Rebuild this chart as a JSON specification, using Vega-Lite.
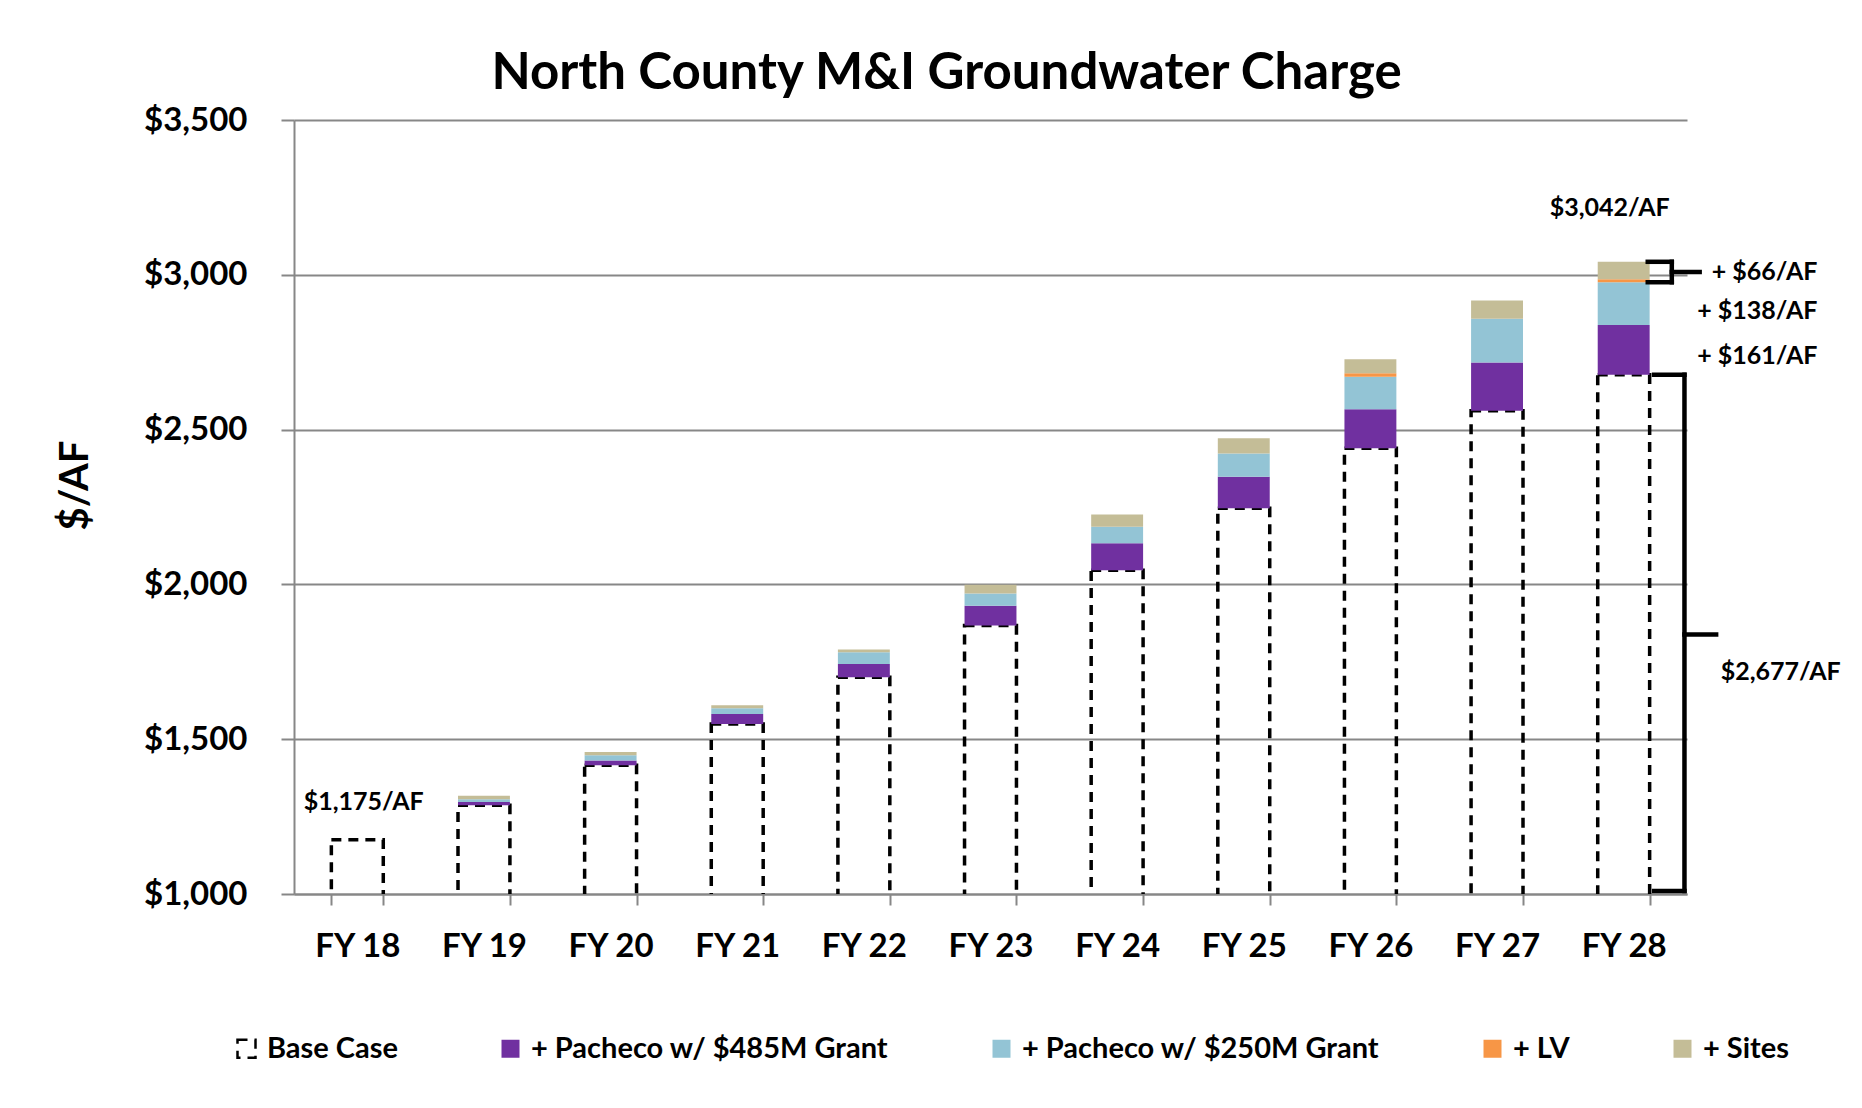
{
  "$schema": "https://vega.github.io/schema/vega-lite/v6.json",
  "width": 1393,
  "height": 774,
  "autosize": {"type": "none"},
  "padding": {"left": 294, "top": 120, "right": 175, "bottom": 214},
  "background": "#ffffff",
  "title": {
    "text": "North County M&I Groundwater Charge",
    "font": "Lato",
    "fontWeight": "bold",
    "fontSize": 51,
    "color": "#000000",
    "anchor": "middle",
    "dx": -44,
    "offset": 4
  },
  "layer": [
    {
      "data": {
        "values": [
          {"FY": "FY 18", "series": "Base Case", "from": 0, "to": 1175},
          {"FY": "FY 19", "series": "Base Case", "from": 0, "to": 1287},
          {"FY": "FY 20", "series": "Base Case", "from": 0, "to": 1416},
          {"FY": "FY 21", "series": "Base Case", "from": 0, "to": 1549},
          {"FY": "FY 22", "series": "Base Case", "from": 0, "to": 1700},
          {"FY": "FY 23", "series": "Base Case", "from": 0, "to": 1867},
          {"FY": "FY 24", "series": "Base Case", "from": 0, "to": 2046},
          {"FY": "FY 25", "series": "Base Case", "from": 0, "to": 2246},
          {"FY": "FY 26", "series": "Base Case", "from": 0, "to": 2440},
          {"FY": "FY 27", "series": "Base Case", "from": 0, "to": 2561},
          {"FY": "FY 28", "series": "Base Case", "from": 0, "to": 2677},
          {"FY": "FY 19", "series": "+ Pacheco w/ $485M Grant", "from": 1287, "to": 1297},
          {"FY": "FY 20", "series": "+ Pacheco w/ $485M Grant", "from": 1416, "to": 1431},
          {"FY": "FY 21", "series": "+ Pacheco w/ $485M Grant", "from": 1549, "to": 1581},
          {"FY": "FY 22", "series": "+ Pacheco w/ $485M Grant", "from": 1700, "to": 1743},
          {"FY": "FY 23", "series": "+ Pacheco w/ $485M Grant", "from": 1867, "to": 1931},
          {"FY": "FY 24", "series": "+ Pacheco w/ $485M Grant", "from": 2046, "to": 2133},
          {"FY": "FY 25", "series": "+ Pacheco w/ $485M Grant", "from": 2246, "to": 2348},
          {"FY": "FY 26", "series": "+ Pacheco w/ $485M Grant", "from": 2440, "to": 2566},
          {"FY": "FY 27", "series": "+ Pacheco w/ $485M Grant", "from": 2561, "to": 2717},
          {"FY": "FY 28", "series": "+ Pacheco w/ $485M Grant", "from": 2677, "to": 2838},
          {"FY": "FY 19", "series": "+ Pacheco w/ $250M Grant", "from": 1297, "to": 1306},
          {"FY": "FY 20", "series": "+ Pacheco w/ $250M Grant", "from": 1431, "to": 1448},
          {"FY": "FY 21", "series": "+ Pacheco w/ $250M Grant", "from": 1581, "to": 1600},
          {"FY": "FY 22", "series": "+ Pacheco w/ $250M Grant", "from": 1743, "to": 1781},
          {"FY": "FY 23", "series": "+ Pacheco w/ $250M Grant", "from": 1931, "to": 1971},
          {"FY": "FY 24", "series": "+ Pacheco w/ $250M Grant", "from": 2133, "to": 2186},
          {"FY": "FY 25", "series": "+ Pacheco w/ $250M Grant", "from": 2348, "to": 2423},
          {"FY": "FY 26", "series": "+ Pacheco w/ $250M Grant", "from": 2566, "to": 2671},
          {"FY": "FY 27", "series": "+ Pacheco w/ $250M Grant", "from": 2717, "to": 2858},
          {"FY": "FY 28", "series": "+ Pacheco w/ $250M Grant", "from": 2838, "to": 2976},
          {"FY": "FY 26", "series": "+ LV", "from": 2671, "to": 2682},
          {"FY": "FY 28", "series": "+ LV", "from": 2976, "to": 2986},
          {"FY": "FY 19", "series": "+ Sites", "from": 1306, "to": 1317},
          {"FY": "FY 20", "series": "+ Sites", "from": 1448, "to": 1459},
          {"FY": "FY 21", "series": "+ Sites", "from": 1600, "to": 1610},
          {"FY": "FY 22", "series": "+ Sites", "from": 1781, "to": 1790},
          {"FY": "FY 23", "series": "+ Sites", "from": 1971, "to": 1999},
          {"FY": "FY 24", "series": "+ Sites", "from": 2186, "to": 2226},
          {"FY": "FY 25", "series": "+ Sites", "from": 2423, "to": 2472},
          {"FY": "FY 26", "series": "+ Sites", "from": 2682, "to": 2727},
          {"FY": "FY 27", "series": "+ Sites", "from": 2858, "to": 2917},
          {"FY": "FY 28", "series": "+ Sites", "from": 2986, "to": 3042}
        ]
      },
      "mark": {"type": "bar", "clip": true, "strokeWidth": 3.5},
      "encoding": {
        "x": {
          "field": "FY",
          "type": "nominal",
          "sort": null,
          "scale": {"paddingInner": 0.59, "paddingOuter": 0.295},
          "axis": {
            "title": null,
            "tickBand": "extent",
            "labelAngle": 0,
            "labelFontSize": 33,
            "tickSize": 11,
            "labelPadding": 41,
            "labelBaseline": "middle",
            "grid": false
          }
        },
        "y": {
          "field": "to",
          "type": "quantitative",
          "title": "$/AF",
          "scale": {"domain": [1000, 3500], "nice": false, "zero": false},
          "axis": {
            "title": "$/AF",
            "values": [1000, 1500, 2000, 2500, 3000, 3500],
            "format": "$,.0f",
            "labelFontSize": 33,
            "tickSize": 13,
            "labelPadding": 34,
            "grid": true,
            "titleFontSize": 40,
            "titlePadding": 48,
            "titleY": 365
          }
        },
        "y2": {"field": "from"},
        "color": {
          "field": "series",
          "type": "nominal",
          "scale": {
            "domain": ["Base Case", "+ Pacheco w/ $485M Grant", "+ Pacheco w/ $250M Grant", "+ LV", "+ Sites"],
            "range": ["transparent", "#7030A0", "#93C4D5", "#F79646", "#C4BD97"]
          },
          "legend": {"title": null}
        },
        "stroke": {
          "field": "series",
          "type": "nominal",
          "scale": {
            "domain": ["Base Case", "+ Pacheco w/ $485M Grant", "+ Pacheco w/ $250M Grant", "+ LV", "+ Sites"],
            "range": ["#000000", "transparent", "transparent", "transparent", "transparent"]
          },
          "legend": {"title": null}
        },
        "strokeDash": {
          "field": "series",
          "type": "nominal",
          "scale": {
            "domain": ["Base Case", "+ Pacheco w/ $485M Grant", "+ Pacheco w/ $250M Grant", "+ LV", "+ Sites"],
            "range": [[10, 7], [1, 0], [1, 0], [1, 0], [1, 0]]
          },
          "legend": {"title": null}
        }
      }
    },
    {
      "layer": [
        {
          "data": {
            "values": [
              {"x": 0.55, "y": 1297, "label": "$1,175/AF"},
              {"x": 10.39, "y": 3216, "label": "$3,042/AF"},
              {"x": 11.74, "y": 1717, "label": "$2,677/AF"}
            ]
          },
          "mark": {"type": "text", "font": "Lato", "fontWeight": "bold", "fontSize": 25, "color": "#000000", "align": "center", "baseline": "middle"},
          "encoding": {
            "x": {"field": "x", "type": "quantitative", "scale": {"domain": [0, 11], "nice": false, "zero": false}, "axis": null},
            "y": {"field": "y", "type": "quantitative", "title": "$/AF", "scale": {"domain": [1000, 3500], "nice": false, "zero": false}},
            "text": {"field": "label"}
          }
        },
        {
          "data": {
            "values": [
              {"x": 12.03, "y": 3009, "label": "+ $66/AF"},
              {"x": 12.03, "y": 2883, "label": "+ $138/AF"},
              {"x": 12.03, "y": 2738, "label": "+ $161/AF"}
            ]
          },
          "mark": {"type": "text", "font": "Lato", "fontWeight": "bold", "fontSize": 25, "color": "#000000", "align": "right", "baseline": "middle"},
          "encoding": {
            "x": {"field": "x", "type": "quantitative", "scale": {"domain": [0, 11], "nice": false, "zero": false}, "axis": null},
            "y": {"field": "y", "type": "quantitative", "title": "$/AF", "scale": {"domain": [1000, 3500], "nice": false, "zero": false}},
            "text": {"field": "label"}
          }
        },
        {
          "data": {
            "values": [
              {"x": 10.69, "x2": 10.88, "y": 3042, "y2": 3042},
              {"x": 10.88, "x2": 10.88, "y": 2976, "y2": 3042},
              {"x": 10.69, "x2": 10.88, "y": 2976, "y2": 2976},
              {"x": 10.88, "x2": 11.1, "y": 3009, "y2": 3009},
              {"x": 10.74, "x2": 10.98, "y": 2677, "y2": 2677},
              {"x": 10.98, "x2": 10.98, "y": 1010, "y2": 2677},
              {"x": 10.74, "x2": 10.98, "y": 1010, "y2": 1010},
              {"x": 10.98, "x2": 11.23, "y": 1838, "y2": 1838}
            ]
          },
          "mark": {"type": "rule", "color": "#000000", "strokeWidth": 4.5, "strokeCap": "square"},
          "encoding": {
            "x": {"field": "x", "type": "quantitative", "scale": {"domain": [0, 11], "nice": false, "zero": false}, "axis": null},
            "x2": {"field": "x2"},
            "y": {"field": "y", "type": "quantitative", "title": "$/AF", "scale": {"domain": [1000, 3500], "nice": false, "zero": false}},
            "y2": {"field": "y2"}
          }
        }
      ]
    }
  ],
  "resolve": {"scale": {"x": "independent"}},
  "config": {
    "view": {"stroke": null},
    "font": "Lato",
    "axis": {
      "labelFont": "Lato",
      "labelFontWeight": "bold",
      "labelColor": "#000000",
      "titleFont": "Lato",
      "titleFontWeight": "bold",
      "titleColor": "#000000",
      "domainColor": "#878787",
      "domainWidth": 2,
      "tickColor": "#878787",
      "tickWidth": 2,
      "gridColor": "#878787",
      "gridWidth": 2
    },
    "legend": {
      "orient": "none",
      "legendX": -62,
      "legendY": 914,
      "direction": "horizontal",
      "columns": 5,
      "symbolType": "square",
      "symbolSize": 324,
      "symbolStrokeWidth": 2.5,
      "labelFont": "Lato",
      "labelFontWeight": "bold",
      "labelFontSize": 29,
      "labelColor": "#000000",
      "labelOffset": 6,
      "columnPadding": 98,
      "padding": 0,
      "labelLimit": 600
    }
  }
}
